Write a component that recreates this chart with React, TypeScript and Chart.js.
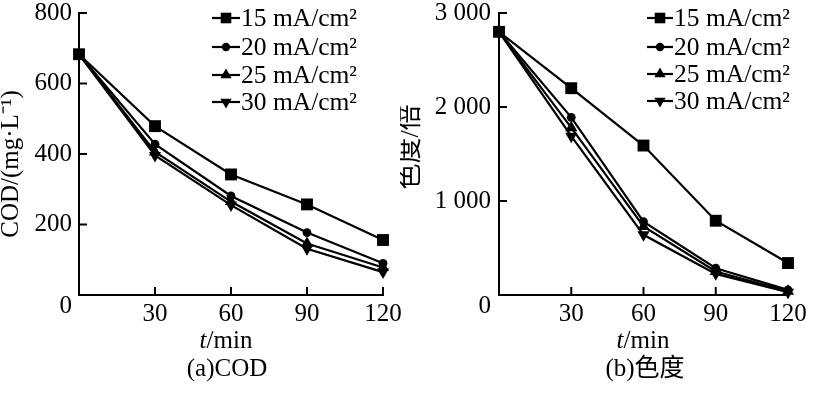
import React, { useEffect, useRef } from 'react';
import { Chart, registerables } from 'chart.js';

Chart.register(...registerables);

// ---------- data ----------
const times = [0, 30, 60, 90, 120];
const seriesLabels = ['15 mA/cm²', '20 mA/cm²', '25 mA/cm²', '30 mA/cm²'];

const cod15 = [683, 479, 342, 257, 156];
const cod20 = [683, 428, 281, 177, 90];
const cod25 = [683, 406, 265, 146, 78];
const cod30 = [683, 396, 255, 131, 65];

const color15 = [2800, 2200, 1590, 790, 340];
const color20 = [2800, 1890, 780, 285, 55];
const color25 = [2800, 1780, 730, 250, 40];
const color30 = [2800, 1690, 640, 225, 30];

const codTicks = [0, 200, 400, 600, 800];
const codTickLabels = ['0', '200', '400', '600', '800'];
const colorTicks = [0, 1000, 2000, 3000];
const colorTickLabels = ['0', '1 000', '2 000', '3 000'];
const xTickLabels = ['', '30', '60', '90', '120'];

const xTitleItalic = 't';
const xTitleRest = '/min';
const codYTitle = 'COD/(mg·L⁻¹)';
const colorYTitle = '色度/倍';
const codCaption = '(a)COD';
const colorCaption = '(b)色度';

// ---------- styles ----------
const FONT = "'Liberation Serif', 'Times New Roman', 'Noto Sans CJK SC', serif";
const pointStyles = ['rect', 'circle', 'triangle', 'triangle'];
const pointRotations = [0, 0, 0, 180];
const pointRadii = [8.4, 4.4, 7, 7];

type Panel = {
  series: number[][];
  yTicks: number[];
  yTickLabels: string[];
  yMax: number;
  yTitle: string;
  yTitleSize: number;
  caption: string;
  axisLeft: number;
  padRight: number;
  yLabelPad: number;
  yTitleX: number;
  yTitleY: number;
  xTitleX: number;
  captionX: number;
  legendLineX0: number;
  legendLineX1: number;
  legendRows: number[];
};

function drawMarker(ctx: CanvasRenderingContext2D, style: string, rot: number, x: number, y: number, r: number) {
  ctx.beginPath();
  if (style === 'rect') {
    const h = r * Math.SQRT1_2;
    ctx.rect(x - h, y - h, 2 * h, 2 * h);
  } else if (style === 'circle') {
    ctx.arc(x, y, r, 0, Math.PI * 2);
  } else {
    const s = rot === 180 ? -1 : 1;
    const dx = r * Math.sin((2 * Math.PI) / 3);
    ctx.moveTo(x, y - s * r);
    ctx.lineTo(x + dx, y + (s * r) / 2);
    ctx.lineTo(x - dx, y + (s * r) / 2);
    ctx.closePath();
  }
  ctx.fill();
}

function makeChart(canvas: HTMLCanvasElement, p: Panel) {
  const datasets = p.series.map((vals, i) => ({
    label: seriesLabels[i],
    data: times.map((t, j) => ({ x: t, y: vals[j] })),
    borderColor: '#000',
    backgroundColor: '#000',
    borderWidth: 2.2,
    pointStyle: pointStyles[i],
    pointRotation: pointRotations[i],
    pointRadius: pointRadii[i],
    pointBorderWidth: 0,
    pointBackgroundColor: '#000',
    pointBorderColor: '#000',
    tension: 0,
    clip: false as any,
  }));

  const decor = {
    id: 'decor',
    afterDraw(chart: any) {
      const ctx: CanvasRenderingContext2D = chart.ctx;
      const area = chart.chartArea;
      const xs = chart.scales.x;
      const ys = chart.scales.y;
      ctx.save();
      // inward tick marks
      ctx.strokeStyle = '#000';
      ctx.lineWidth = 2;
      ctx.beginPath();
      p.yTicks.forEach((v) => {
        if (v === 0) return;
        const py = ys.getPixelForValue(v);
        ctx.moveTo(area.left, py);
        ctx.lineTo(area.left + 8, py);
      });
      times.forEach((v) => {
        if (v === 0) return;
        const px = xs.getPixelForValue(v);
        ctx.moveTo(px, area.bottom);
        ctx.lineTo(px, area.bottom - 8);
      });
      ctx.stroke();

      ctx.fillStyle = '#000';
      // x title: italic t + /min
      ctx.textBaseline = 'middle';
      ctx.textAlign = 'left';
      ctx.font = `italic 25px ${FONT}`;
      const wT = ctx.measureText(xTitleItalic).width;
      ctx.font = `25px ${FONT}`;
      const wR = ctx.measureText(xTitleRest).width;
      const startX = p.xTitleX - (wT + wR) / 2;
      ctx.font = `italic 25px ${FONT}`;
      ctx.fillText(xTitleItalic, startX, 341);
      ctx.font = `25px ${FONT}`;
      ctx.fillText(xTitleRest, startX + wT, 341);

      // caption
      ctx.textAlign = 'center';
      ctx.fillText(p.caption, p.captionX, 369);

      // y title
      ctx.save();
      ctx.translate(p.yTitleX, p.yTitleY);
      ctx.rotate(-Math.PI / 2);
      ctx.textAlign = 'center';
      ctx.textBaseline = 'middle';
      ctx.font = `${p.yTitleSize}px ${FONT}`;
      ctx.fillText(p.yTitle, 0, 0);
      ctx.restore();

      // legend
      ctx.font = `25.5px ${FONT}`;
      ctx.textAlign = 'left';
      ctx.textBaseline = 'middle';
      ctx.lineWidth = 2.2;
      p.legendRows.forEach((ry, i) => {
        ctx.beginPath();
        ctx.moveTo(p.legendLineX0, ry);
        ctx.lineTo(p.legendLineX1, ry);
        ctx.stroke();
        const r = i === 0 ? 7.5 : i === 1 ? 4.2 : 6.5;
        drawMarker(ctx, pointStyles[i], pointRotations[i], (p.legendLineX0 + p.legendLineX1) / 2, ry, r);
        ctx.fillText(seriesLabels[i], p.legendLineX1 + 1, ry + 1);
      });
      ctx.restore();
    },
  };

  return new Chart(canvas, {
    type: 'line',
    data: { datasets: datasets as any },
    options: {
      animation: false,
      responsive: false,
      devicePixelRatio: 1,
      layout: { padding: { left: 0, top: 13, right: p.padRight, bottom: 0 } },
      plugins: { legend: { display: false }, tooltip: { enabled: false } },
      scales: {
        x: {
          type: 'linear',
          min: 0,
          max: 120,
          afterBuildTicks: (s: any) => {
            s.ticks = times.map((v) => ({ value: v }));
          },
          afterFit: (s: any) => {
            s.height = 99;
            s.paddingLeft = 0;
            s.paddingRight = 0;
          },
          ticks: {
            autoSkip: false,
            maxRotation: 0,
            padding: 7,
            color: '#000',
            font: { family: FONT, size: 25, lineHeight: 1 },
            callback: (v: any) => xTickLabels[times.indexOf(Number(v))] ?? '',
          },
          grid: { display: false, drawTicks: false },
          border: { display: true, color: '#000', width: 2 },
        },
        y: {
          type: 'linear',
          min: 0,
          max: p.yMax,
          afterBuildTicks: (s: any) => {
            s.ticks = p.yTicks.map((v) => ({ value: v }));
          },
          afterFit: (s: any) => {
            s.width = p.axisLeft;
            s.paddingTop = 0;
            s.paddingBottom = 0;
          },
          ticks: {
            autoSkip: false,
            padding: p.yLabelPad,
            color: '#000',
            font: { family: FONT, size: 25, lineHeight: 0.95 },
            callback: (v: any) => {
              const idx = p.yTicks.indexOf(Number(v));
              const lab = p.yTickLabels[idx] ?? '';
              return Number(v) === 0 ? ['', lab] : lab;
            },
          },
          grid: { display: false, drawTicks: false },
          border: { display: true, color: '#000', width: 2 },
        },
      },
    },
    plugins: [decor as any],
  });
}

const leftPanel: Panel = {
  series: [cod15, cod20, cod25, cod30],
  yTicks: codTicks,
  yTickLabels: codTickLabels,
  yMax: 800,
  yTitle: codYTitle,
  yTitleSize: 25,
  caption: codCaption,
  axisLeft: 79,
  padRight: 27,
  yLabelPad: 7,
  yTitleX: 11,
  yTitleY: 164,
  xTitleX: 226,
  captionX: 227,
  legendLineX0: 212,
  legendLineX1: 240,
  legendRows: [18, 47, 75, 102],
};

const rightPanel: Panel = {
  series: [color15, color20, color25, color30],
  yTicks: colorTicks,
  yTickLabels: colorTickLabels,
  yMax: 3000,
  yTitle: colorYTitle,
  yTitleSize: 26,
  caption: colorCaption,
  axisLeft: 99,
  padRight: 32,
  yLabelPad: 8,
  yTitleX: 11,
  yTitleY: 147,
  xTitleX: 243,
  captionX: 245,
  legendLineX0: 247,
  legendLineX1: 273,
  legendRows: [18, 47, 74, 101],
};

function PanelChart({ panel, left, width }: { panel: Panel; left: number; width: number }) {
  const ref = useRef<HTMLCanvasElement | null>(null);
  useEffect(() => {
    if (!ref.current) return;
    const chart = makeChart(ref.current, panel);
    return () => chart.destroy();
  }, [panel]);
  return (
    <canvas
      ref={ref}
      width={width}
      height={394}
      style={{ position: 'absolute', left, top: 0, width, height: 394, display: 'block' }}
    />
  );
}

export default function App() {
  return (
    <div style={{ position: 'absolute', left: 0, top: 0, width: 820, height: 394, background: '#fff', overflow: 'hidden' }}>
      <PanelChart panel={leftPanel} left={0} width={410} />
      <PanelChart panel={rightPanel} left={400} width={420} />
    </div>
  );
}
